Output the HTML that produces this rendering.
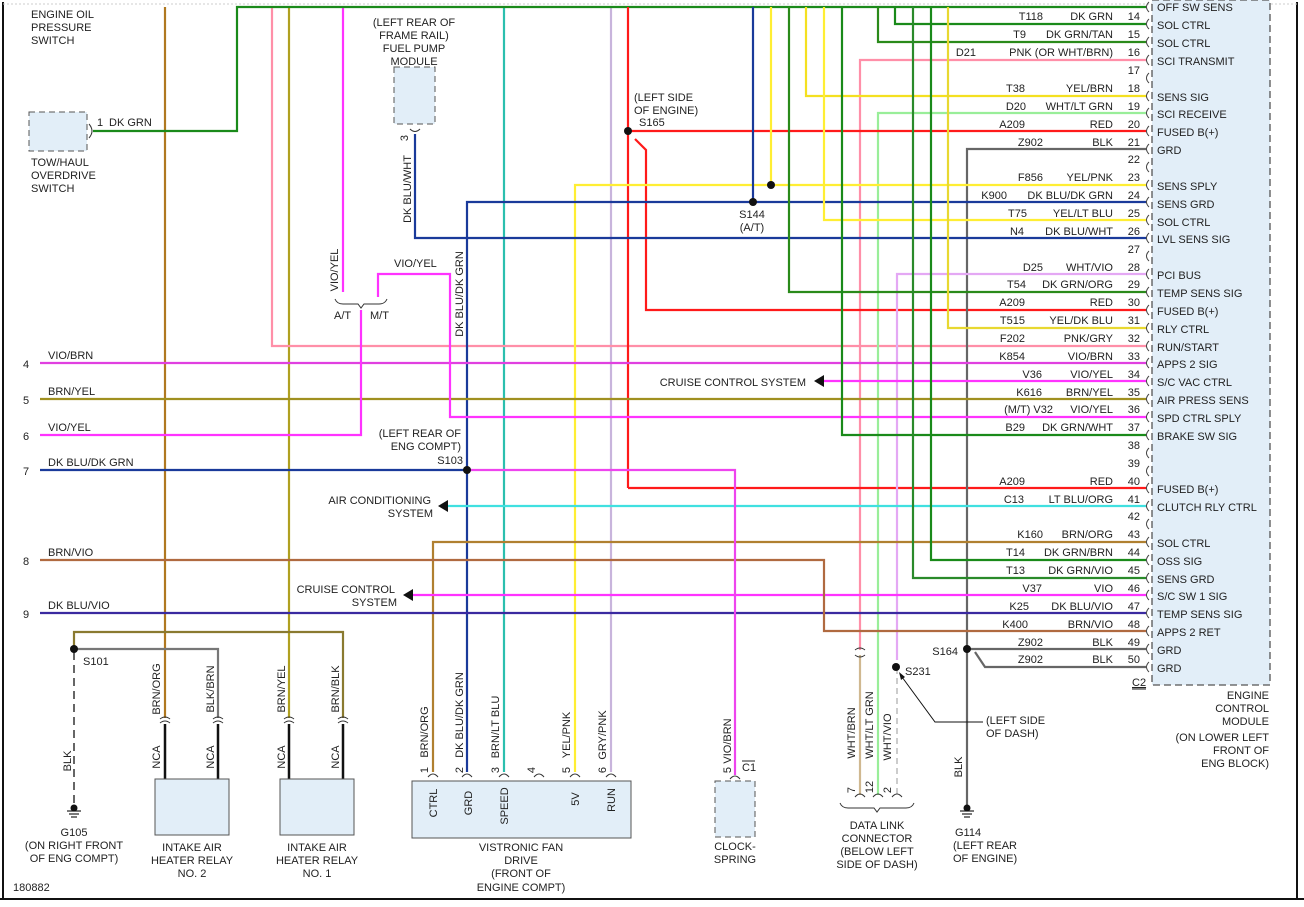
<!DOCTYPE html>
<html><head><meta charset="utf-8"><style>
html,body{margin:0;padding:0;background:#fff}
svg{display:block}
text{font-family:"Liberation Sans",Arial,sans-serif;font-size:11px;fill:#222}
.w{fill:none;stroke-width:2.2}
</style></head><body>
<svg width="1304" height="907" viewBox="0 0 1304 907" xmlns="http://www.w3.org/2000/svg">
<rect width="1304" height="907" fill="#fff"/>
<line x1="3" y1="2" x2="3" y2="900" stroke="#111" stroke-width="2"/>
<line x1="1297" y1="2" x2="1297" y2="900" stroke="#111" stroke-width="2"/>
<line x1="0" y1="899" x2="1304" y2="899" stroke="#111" stroke-width="2"/>
<line x1="3" y1="4" x2="1297" y2="4" stroke="#ccc" stroke-width="1" stroke-dasharray="2,2"/>

<!-- ECM box -->
<rect x="1152" y="0" width="118" height="685" fill="#e2eef8" stroke="#555" stroke-width="1.3" stroke-dasharray="7,4"/>

<!-- vertical long wires -->
<line class="w" x1="165" y1="7" x2="165" y2="718" stroke="#b07820"/>
<line class="w" x1="289" y1="7" x2="289" y2="718" stroke="#b0a020"/>
<line class="w" x1="504" y1="7" x2="504" y2="772" stroke="#2bbfae"/>
<line class="w" x1="611" y1="7" x2="611" y2="772" stroke="#c8b4dc"/>
<polyline class="w" points="272,7 272,346 1146,346" stroke="#ff8fa8"/>
<line class="w" x1="343" y1="7" x2="343" y2="292" stroke="#ff33ff"/>

<!-- top DK GRN -->
<polyline class="w" points="93,131 237,131 237,7 1146,7" stroke="#1a8a1a"/>
<polyline class="w" points="895,7 895,24 1146,24" stroke="#1a8a1a"/>
<polyline class="w" points="878,7 878,42 1146,42" stroke="#2a8a1a"/>
<polyline class="w" points="860,650 860,60 1146,60" stroke="#ff8fa8"/>
<polyline class="w" points="806,7 806,96 1146,96" stroke="#f4e020"/>
<polyline class="w" points="878,795 878,113 1146,113" stroke="#99ee99"/>
<line class="w" x1="628" y1="7" x2="628" y2="488" stroke="#ff1a1a"/>
<line class="w" x1="628" y1="488" x2="1146" y2="488" stroke="#ff1a1a"/>
<line class="w" x1="628" y1="131" x2="1146" y2="131" stroke="#ff1a1a"/>
<polyline class="w" points="635,139 646,150 646,310 1146,310" stroke="#ff1a1a"/>
<polyline class="w" points="967,806 967,149 1146,149" stroke="#666"/>
<polyline class="w" points="575,772 575,185 1146,185" stroke="#ffee33"/>
<line class="w" x1="771" y1="7" x2="771" y2="185" stroke="#ffee33"/>
<polyline class="w" points="467,772 467,202 1146,202" stroke="#1a3a9a"/>
<line class="w" x1="753" y1="7" x2="753" y2="202" stroke="#1a3a9a"/>
<polyline class="w" points="824,7 824,220 1146,220" stroke="#ffee33"/>
<polyline class="w" points="415,134 415,238 1146,238" stroke="#1a3a9a"/>
<polyline class="w" points="897,660 897,274 1146,274" stroke="#e4a8f4"/>
<polyline class="w" points="789,7 789,292 1146,292" stroke="#2a8a1a"/>
<polyline class="w" points="948,7 948,328 1146,328" stroke="#e8d830"/>
<line class="w" x1="40" y1="363" x2="1146" y2="363" stroke="#e040e0"/>
<line class="w" x1="820" y1="381" x2="1146" y2="381" stroke="#ff33ff"/>
<line class="w" x1="40" y1="399" x2="1146" y2="399" stroke="#a09020"/>
<polyline class="w" points="378,297 378,274 450,274 450,417 1146,417" stroke="#ff33ff"/>
<polyline class="w" points="40,435 361,435 361,310" stroke="#ff33ff"/>
<polyline class="w" points="842,7 842,435 1146,435" stroke="#1a8a1a"/>
<line class="w" x1="445" y1="506" x2="1146" y2="506" stroke="#40e0e0"/>
<polyline class="w" points="433,772 433,542 1146,542" stroke="#b08030"/>
<polyline class="w" points="931,7 931,560 1146,560" stroke="#1a8a1a"/>
<polyline class="w" points="913,7 913,578 1146,578" stroke="#2a8a2a"/>
<line class="w" x1="410" y1="595" x2="1146" y2="595" stroke="#ff33ff" stroke-width="3"/>
<line class="w" x1="40" y1="613" x2="1146" y2="613" stroke="#3a2aa0"/>
<polyline class="w" points="40,560 824,560 824,631 1146,631" stroke="#b06a40"/>
<line class="w" x1="967" y1="649" x2="1146" y2="649" stroke="#666"/>
<polyline class="w" points="975,652 985,667 1146,667" stroke="#666"/>
<line class="w" x1="40" y1="470" x2="467" y2="470" stroke="#1a3a9a"/>
<polyline class="w" points="467,470 735,470 735,775" stroke="#ee44ee"/>
<line class="w" x1="860" y1="655" x2="860" y2="795" stroke="#d0b890"/>
<line x1="897" y1="668" x2="897" y2="795" stroke="#ccc" stroke-width="2" stroke-dasharray="6,4"/>

<!-- bottom left -->
<polyline class="w" points="74,649 74,632 343,632 343,718" stroke="#8a7a30"/>
<polyline class="w" points="74,649 218,649 218,718" stroke="#777"/>
<line x1="74" y1="652" x2="74" y2="806" stroke="#333" stroke-width="1.5" stroke-dasharray="8,5"/>
<g stroke="#111" stroke-width="2.5">
<line x1="165" y1="724" x2="165" y2="779"/><line x1="218" y1="724" x2="218" y2="779"/>
<line x1="289" y1="724" x2="289" y2="779"/><line x1="343" y1="724" x2="343" y2="779"/>
</g>
<g fill="none" stroke="#333" stroke-width="1">
<path d="M160,719 q5,-4 10,0 M160,723 q5,-4 10,0"/><path d="M213,719 q5,-4 10,0 M213,723 q5,-4 10,0"/>
<path d="M284,719 q5,-4 10,0 M284,723 q5,-4 10,0"/><path d="M338,719 q5,-4 10,0 M338,723 q5,-4 10,0"/>
<path d="M428,777 q5,-6 10,0 M462,777 q5,-6 10,0 M499,777 q5,-6 10,0 M534,777 q5,-6 10,0 M570,777 q5,-6 10,0 M606,777 q5,-6 10,0"/>
<path d="M730,779 q5,-6 10,0"/>
<path d="M855,797 q5,-6 10,0 M873,797 q5,-6 10,0 M892,797 q5,-6 10,0"/>
<path d="M855,650 q5,-4 10,0 M855,655 q5,4 10,0"/>
<path d="M89,124 q6,7 0,14"/>
<path d="M410,129 q5,5 10,0"/>
<path d="M840,803 q2,5 8,5 l26,0 l3,4 l3,-4 l26,0 q6,0 8,-5"/>
<path d="M335,299 q2,5 8,5 l15,0 l3,4 l3,-4 l15,0 q6,0 8,-5"/>
</g>
<rect x="155" y="779" width="74" height="56" fill="#e2eef8" stroke="#555"/>
<rect x="280" y="779" width="74" height="56" fill="#e2eef8" stroke="#555"/>
<rect x="412" y="781" width="219" height="57" fill="#e2eef8" stroke="#555"/>
<rect x="715" y="781" width="40" height="56" fill="#e2eef8" stroke="#555" stroke-dasharray="6,4"/>
<rect x="29" y="112" width="58" height="39" fill="#e2eef8" stroke="#555" stroke-dasharray="6,4"/>
<rect x="394" y="67" width="41" height="57" fill="#e2eef8" stroke="#555" stroke-dasharray="6,4"/>

<!-- grounds -->
<g stroke="#222" stroke-width="1.2"><line x1="67" y1="811" x2="81" y2="811"/><line x1="69" y1="814" x2="79" y2="814"/><line x1="71" y1="817" x2="77" y2="817"/>
<line x1="960" y1="811" x2="974" y2="811"/><line x1="962" y1="814" x2="972" y2="814"/><line x1="964" y1="817" x2="970" y2="817"/></g>
<circle cx="74" cy="808" r="3.5" fill="#111"/><circle cx="967" cy="808" r="3.5" fill="#111"/>

<!-- ECM connector glyphs -->
<g fill="none" stroke="#444" stroke-width="1">
<path d="M1149,2 q-5,5 0,10 M1149,19 q-5,5 0,10 M1149,37 q-5,5 0,10 M1149,55 q-5,5 0,10 M1149,73 q-5,5 0,10 M1149,91 q-5,5 0,10 M1149,108 q-5,5 0,10 M1149,126 q-5,5 0,10 M1149,144 q-5,5 0,10 M1149,162 q-5,5 0,10 M1149,180 q-5,5 0,10 M1149,197 q-5,5 0,10 M1149,215 q-5,5 0,10 M1149,233 q-5,5 0,10 M1149,251 q-5,5 0,10 M1149,269 q-5,5 0,10 M1149,287 q-5,5 0,10 M1149,305 q-5,5 0,10 M1149,323 q-5,5 0,10 M1149,341 q-5,5 0,10 M1149,358 q-5,5 0,10 M1149,376 q-5,5 0,10 M1149,394 q-5,5 0,10 M1149,412 q-5,5 0,10 M1149,430 q-5,5 0,10 M1149,448 q-5,5 0,10 M1149,466 q-5,5 0,10 M1149,483 q-5,5 0,10 M1149,501 q-5,5 0,10 M1149,519 q-5,5 0,10 M1149,537 q-5,5 0,10 M1149,555 q-5,5 0,10 M1149,573 q-5,5 0,10 M1149,590 q-5,5 0,10 M1149,608 q-5,5 0,10 M1149,626 q-5,5 0,10 M1149,644 q-5,5 0,10 M1149,662 q-5,5 0,10"/>
</g>

<!-- splices -->
<g fill="#111"><circle cx="628" cy="131" r="4"/><circle cx="771" cy="185" r="4"/><circle cx="753" cy="202" r="4"/><circle cx="467" cy="470" r="4"/><circle cx="74" cy="649" r="4"/><circle cx="967" cy="649" r="4"/><circle cx="896" cy="667" r="4"/></g>
<!-- arrows -->
<g fill="#111"><path d="M814,381 l10,-6 v12z"/><path d="M438,506 l10,-6 v12z"/><path d="M403,595 l10,-6 v12z"/><path d="M899,672 l2,8 l4,-3z"/></g>
<polyline points="902,677 935,722 983,722" fill="none" stroke="#111" stroke-width="1"/>

<!-- ECM right texts -->
<g text-anchor="end">
<text x="1043" y="20">T118</text><text x="1113" y="20">DK GRN</text><text x="1140" y="20">14</text>
<text x="1026" y="38">T9</text><text x="1113" y="38">DK GRN/TAN</text><text x="1140" y="38">15</text>
<text x="976" y="56">D21</text><text x="1113" y="56">PNK (OR WHT/BRN)</text><text x="1140" y="56">16</text>
<text x="1140" y="74">17</text>
<text x="1025" y="92">T38</text><text x="1113" y="92">YEL/BRN</text><text x="1140" y="92">18</text>
<text x="1026" y="110">D20</text><text x="1113" y="110">WHT/LT GRN</text><text x="1140" y="110">19</text>
<text x="1025" y="128">A209</text><text x="1113" y="128">RED</text><text x="1140" y="128">20</text>
<text x="1043" y="146">Z902</text><text x="1113" y="146">BLK</text><text x="1140" y="146">21</text>
<text x="1140" y="163">22</text>
<text x="1043" y="181">F856</text><text x="1113" y="181">YEL/PNK</text><text x="1140" y="181">23</text>
<text x="1007" y="199">K900</text><text x="1113" y="199">DK BLU/DK GRN</text><text x="1140" y="199">24</text>
<text x="1027" y="217">T75</text><text x="1113" y="217">YEL/LT BLU</text><text x="1140" y="217">25</text>
<text x="1024" y="235">N4</text><text x="1113" y="235">DK BLU/WHT</text><text x="1140" y="235">26</text>
<text x="1140" y="253">27</text>
<text x="1043" y="271">D25</text><text x="1113" y="271">WHT/VIO</text><text x="1140" y="271">28</text>
<text x="1026" y="288">T54</text><text x="1113" y="288">DK GRN/ORG</text><text x="1140" y="288">29</text>
<text x="1025" y="306">A209</text><text x="1113" y="306">RED</text><text x="1140" y="306">30</text>
<text x="1025" y="324">T515</text><text x="1113" y="324">YEL/DK BLU</text><text x="1140" y="324">31</text>
<text x="1025" y="342">F202</text><text x="1113" y="342">PNK/GRY</text><text x="1140" y="342">32</text>
<text x="1025" y="360">K854</text><text x="1113" y="360">VIO/BRN</text><text x="1140" y="360">33</text>
<text x="1042" y="378">V36</text><text x="1113" y="378">VIO/YEL</text><text x="1140" y="378">34</text>
<text x="1042" y="396">K616</text><text x="1113" y="396">BRN/YEL</text><text x="1140" y="396">35</text>
<text x="1053" y="413">(M/T)  V32</text><text x="1113" y="413">VIO/YEL</text><text x="1140" y="413">36</text>
<text x="1025" y="431">B29</text><text x="1113" y="431">DK GRN/WHT</text><text x="1140" y="431">37</text>
<text x="1140" y="449">38</text><text x="1140" y="467">39</text>
<text x="1025" y="485">A209</text><text x="1113" y="485">RED</text><text x="1140" y="485">40</text>
<text x="1024" y="503">C13</text><text x="1113" y="503">LT BLU/ORG</text><text x="1140" y="503">41</text>
<text x="1140" y="520">42</text>
<text x="1043" y="538">K160</text><text x="1113" y="538">BRN/ORG</text><text x="1140" y="538">43</text>
<text x="1025" y="556">T14</text><text x="1113" y="556">DK GRN/BRN</text><text x="1140" y="556">44</text>
<text x="1025" y="574">T13</text><text x="1113" y="574">DK GRN/VIO</text><text x="1140" y="574">45</text>
<text x="1042" y="592">V37</text><text x="1113" y="592">VIO</text><text x="1140" y="592">46</text>
<text x="1029" y="610">K25</text><text x="1113" y="610">DK BLU/VIO</text><text x="1140" y="610">47</text>
<text x="1028" y="628">K400</text><text x="1113" y="628">BRN/VIO</text><text x="1140" y="628">48</text>
<text x="1043" y="646">Z902</text><text x="1113" y="646">BLK</text><text x="1140" y="646">49</text>
<text x="1043" y="663">Z902</text><text x="1113" y="663">BLK</text><text x="1140" y="663">50</text>
<text x="1269" y="699">ENGINE</text><text x="1269" y="712">CONTROL</text><text x="1269" y="725">MODULE</text>
<text x="1269" y="741">(ON LOWER LEFT</text><text x="1269" y="754">FRONT OF</text><text x="1269" y="767">ENG BLOCK)</text>
<text x="806" y="386">CRUISE CONTROL SYSTEM</text>
<text x="431" y="504">AIR CONDITIONING</text><text x="433" y="517">SYSTEM</text>
<text x="395" y="593">CRUISE CONTROL</text><text x="397" y="606">SYSTEM</text>
<text x="461" y="437">(LEFT REAR OF</text><text x="461" y="450">ENG COMPT)</text>
<text x="463" y="464">S103</text>
<text x="958" y="655">S164</text>
</g>
<g>
<text x="1157" y="11">OFF SW SENS</text><text x="1157" y="29">SOL CTRL</text><text x="1157" y="47">SOL CTRL</text><text x="1157" y="65">SCI TRANSMIT</text>
<text x="1157" y="101">SENS SIG</text><text x="1157" y="118">SCI RECEIVE</text><text x="1157" y="136">FUSED B(+)</text><text x="1157" y="154">GRD</text>
<text x="1157" y="190">SENS SPLY</text><text x="1157" y="208">SENS GRD</text><text x="1157" y="226">SOL CTRL</text><text x="1157" y="243">LVL SENS SIG</text>
<text x="1157" y="279">PCI BUS</text><text x="1157" y="297">TEMP SENS SIG</text><text x="1157" y="315">FUSED B(+)</text><text x="1157" y="333">RLY CTRL</text>
<text x="1157" y="351">RUN/START</text><text x="1157" y="368">APPS 2 SIG</text><text x="1157" y="386">S/C VAC CTRL</text><text x="1157" y="404">AIR PRESS SENS</text>
<text x="1157" y="422">SPD CTRL SPLY</text><text x="1157" y="440">BRAKE SW SIG</text><text x="1157" y="493">FUSED B(+)</text><text x="1157" y="511">CLUTCH RLY CTRL</text>
<text x="1157" y="547">SOL CTRL</text><text x="1157" y="565">OSS SIG</text><text x="1157" y="583">SENS GRD</text><text x="1157" y="600">S/C SW 1 SIG</text>
<text x="1157" y="618">TEMP SENS SIG</text><text x="1157" y="636">APPS 2 RET</text><text x="1157" y="654">GRD</text><text x="1157" y="672">GRD</text>
<text x="1132" y="686" text-decoration="underline">C2</text>
<line x1="1132" y1="689" x2="1146" y2="689" stroke="#222"/>

<text x="31" y="18">ENGINE OIL</text><text x="31" y="31">PRESSURE</text><text x="31" y="44">SWITCH</text>
<text x="31" y="166">TOW/HAUL</text><text x="31" y="179">OVERDRIVE</text><text x="31" y="192">SWITCH</text>
<text x="97" y="126">1</text><text x="109" y="126">DK GRN</text>
<text x="414" y="26" text-anchor="middle">(LEFT REAR OF</text><text x="414" y="39" text-anchor="middle">FRAME RAIL)</text><text x="414" y="52" text-anchor="middle">FUEL PUMP</text><text x="414" y="65" text-anchor="middle">MODULE</text>
<text x="634" y="101">(LEFT SIDE</text><text x="634" y="114">OF ENGINE)</text><text x="639" y="126">S165</text>
<text x="752" y="218" text-anchor="middle">S144</text><text x="752" y="231" text-anchor="middle">(A/T)</text>
<text x="334" y="319">A/T</text><text x="370" y="319">M/T</text><text x="394" y="267">VIO/YEL</text>
<text x="23" y="368">4</text><text x="48" y="359">VIO/BRN</text>
<text x="23" y="404">5</text><text x="48" y="395">BRN/YEL</text>
<text x="23" y="440">6</text><text x="48" y="431">VIO/YEL</text>
<text x="23" y="475">7</text><text x="48" y="466">DK BLU/DK GRN</text>
<text x="23" y="565">8</text><text x="48" y="556">BRN/VIO</text>
<text x="23" y="618">9</text><text x="48" y="609">DK BLU/VIO</text>
<text x="83" y="665">S101</text>
<text x="905" y="675">S231</text>
<text x="986" y="724">(LEFT SIDE</text><text x="986" y="737">OF DASH)</text>
<text x="74" y="836" text-anchor="middle">G105</text><text x="74" y="849" text-anchor="middle">(ON RIGHT FRONT</text><text x="74" y="862" text-anchor="middle">OF ENG COMPT)</text>
<text x="192" y="851" text-anchor="middle">INTAKE AIR</text><text x="192" y="864" text-anchor="middle">HEATER RELAY</text><text x="192" y="877" text-anchor="middle">NO. 2</text>
<text x="317" y="851" text-anchor="middle">INTAKE AIR</text><text x="317" y="864" text-anchor="middle">HEATER RELAY</text><text x="317" y="877" text-anchor="middle">NO. 1</text>
<text x="521" y="851" text-anchor="middle">VISTRONIC FAN</text><text x="521" y="864" text-anchor="middle">DRIVE</text><text x="521" y="877" text-anchor="middle">(FRONT OF</text><text x="521" y="891" text-anchor="middle">ENGINE COMPT)</text>
<text x="735" y="850" text-anchor="middle">CLOCK-</text><text x="735" y="863" text-anchor="middle">SPRING</text>
<text x="877" y="829" text-anchor="middle">DATA LINK</text><text x="877" y="842" text-anchor="middle">CONNECTOR</text><text x="877" y="855" text-anchor="middle">(BELOW LEFT</text><text x="877" y="868" text-anchor="middle">SIDE OF DASH)</text>
<text x="955" y="836">G114</text><text x="953" y="849">(LEFT REAR</text><text x="953" y="862">OF ENGINE)</text>
<text x="13" y="891">180882</text>
<text x="742" y="771">C1</text><line x1="742" y1="761" x2="755" y2="761" stroke="#222"/>
</g>
<!-- rotated labels -->
<g text-anchor="middle">
<text transform="translate(338,270) rotate(-90)">VIO/YEL</text>
<text transform="translate(411,189) rotate(-90)">DK BLU/WHT</text>
<text transform="translate(408,138) rotate(-90)">3</text>
<text transform="translate(463,294) rotate(-90)">DK BLU/DK GRN</text>
<text transform="translate(160,689) rotate(-90)">BRN/ORG</text>
<text transform="translate(214,689) rotate(-90)">BLK/BRN</text>
<text transform="translate(285,689) rotate(-90)">BRN/YEL</text>
<text transform="translate(339,689) rotate(-90)">BRN/BLK</text>
<text transform="translate(160,757) rotate(-90)">NCA</text>
<text transform="translate(214,757) rotate(-90)">NCA</text>
<text transform="translate(285,757) rotate(-90)">NCA</text>
<text transform="translate(339,757) rotate(-90)">NCA</text>
<text transform="translate(71,761) rotate(-90)">BLK</text>
<text transform="translate(428,732) rotate(-90)">BRN/ORG</text>
<text transform="translate(463,715) rotate(-90)">DK BLU/DK GRN</text>
<text transform="translate(499,727) rotate(-90)">BRN/LT BLU</text>
<text transform="translate(570,735) rotate(-90)">YEL/PNK</text>
<text transform="translate(606,735) rotate(-90)">GRY/PNK</text>
<text transform="translate(428,770) rotate(-90)">1</text>
<text transform="translate(463,770) rotate(-90)">2</text>
<text transform="translate(499,770) rotate(-90)">3</text>
<text transform="translate(535,770) rotate(-90)">4</text>
<text transform="translate(570,770) rotate(-90)">5</text>
<text transform="translate(606,770) rotate(-90)">6</text>
<text transform="translate(437,803) rotate(-90)">CTRL</text>
<text transform="translate(472,803) rotate(-90)">GRD</text>
<text transform="translate(508,806) rotate(-90)">SPEED</text>
<text transform="translate(579,799) rotate(-90)">5V</text>
<text transform="translate(615,800) rotate(-90)">RUN</text>
<text transform="translate(731,741) rotate(-90)">VIO/BRN</text>
<text transform="translate(731,770) rotate(-90)">5</text>
<text transform="translate(855,733) rotate(-90)">WHT/BRN</text>
<text transform="translate(873,725) rotate(-90)">WHT/LT GRN</text>
<text transform="translate(891,737) rotate(-90)">WHT/VIO</text>
<text transform="translate(855,790) rotate(-90)">7</text>
<text transform="translate(873,787) rotate(-90)">12</text>
<text transform="translate(891,790) rotate(-90)">2</text>
<text transform="translate(962,767) rotate(-90)">BLK</text>
</g>
</svg>
</body></html>
